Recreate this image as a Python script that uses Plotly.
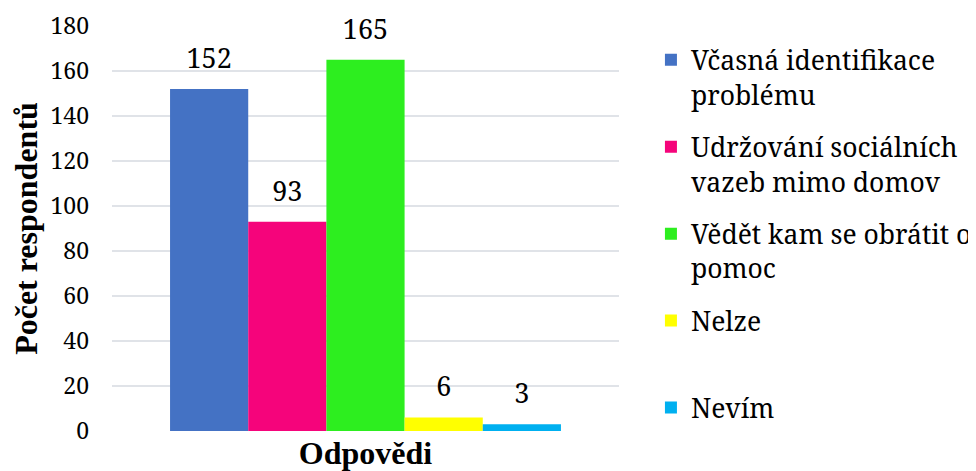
import plotly.graph_objects as go

kategorie = ["Odpovědi"]
serie = ["Včasná identifikace<br>problému",
         "Udržování sociálních<br>vazeb mimo domov",
         "Vědět kam se obrátit o<br>pomoc",
         "Nelze<br> ",
         "Nevím"]
hodnoty = [152, 93, 165, 6, 3]
barvy = ["#4472C4", "#F5047B", "#2DEE1F", "#FFFF00", "#00B0F0"]

pismo = "Noto Serif"          # obycejne pismo (serif)
pismo_tucne = "Liberation Serif"
mezera = 4.5  # odsazeni popisku nad sloupcem (v jednotkach osy)

fig = go.Figure()
for i in range(len(serie)):
    fig.add_trace(go.Bar(x=kategorie,
                         y=[hodnoty[i]],
                         name=serie[i],
                         offsetgroup=str(i),
                         marker=dict(color=barvy[i], line=dict(width=0)),
                         legendgroup=str(i)))
    # neviditelny sloupec jen pro popisek hodnoty
    fig.add_trace(go.Bar(x=kategorie,
                         y=[mezera],
                         base=[hodnoty[i]],
                         offsetgroup=str(i),
                         marker=dict(color="rgba(0,0,0,0)", line=dict(width=0)),
                         text=[hodnoty[i]],
                         textposition="outside",
                         textfont=dict(size=27, color="black", family=pismo),
                         cliponaxis=False,
                         showlegend=False,
                         hoverinfo="skip",
                         legendgroup=str(i)))

# stranka ma 8px okraj, proto posun okraju
fig.update_layout(
    width=992,
    height=463,
    barmode="group",
    bargap=0.229,
    bargroupgap=0,
    plot_bgcolor="white",
    paper_bgcolor="white",
    font=dict(family=pismo, size=23, color="black"),
    margin=dict(l=104, r=381, t=18, b=40),
    showlegend=True,
    legend=dict(x=1.063, y=0.975, xanchor="left", yanchor="top",
                valign="top", itemwidth=30, tracegroupgap=15,
                font=dict(size=26.5, family=pismo, color="black"),
                bgcolor="rgba(0,0,0,0)"),
)
fig.update_yaxes(range=[0, 180], dtick=20, showgrid=True, gridcolor="#E0E3E8",
                 gridwidth=1.5, zeroline=False, showline=False, ticks="",
                 tickfont=dict(size=23, family=pismo), ticklen=0,
                 ticklabelstandoff=22, automargin=False,
                 title=dict(text="<b>Počet respondentů</b>",
                            font=dict(size=32, family=pismo_tucne), standoff=13))
fig.update_xaxes(showticklabels=True, tickfont=dict(size=32, family=pismo_tucne), ticks="",
                 tickvals=kategorie, ticktext=["<b>Odpovědi</b>"],
                 ticklabelstandoff=0,
                 automargin=False, showline=False, zeroline=False)

fig.write_html("out.html")
